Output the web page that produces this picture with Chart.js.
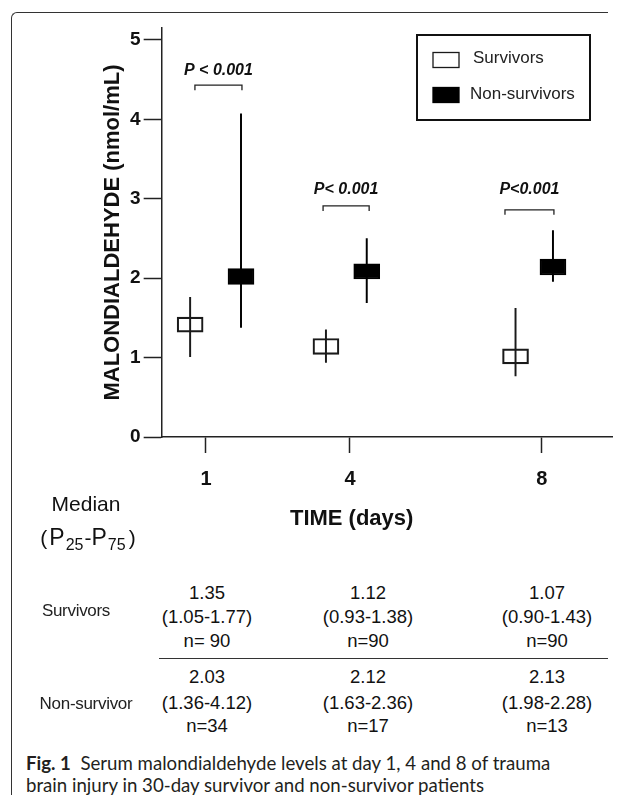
<!DOCTYPE html>
<html>
<head>
<meta charset="utf-8">
<script src="https://cdn.jsdelivr.net/npm/chart.js@4.4.0/dist/chart.umd.min.js"></script>
<style>
  body { margin: 0; background: #fff; }
  #figure { position: relative; width: 622px; height: 795px; overflow: hidden; font-family: "Liberation Sans", Arial, sans-serif; color: #111; }
  #frame { position: absolute; left: 11px; top: 12px; width: 596px; height: 800px; border-left: 1.5px solid #333; border-top: 1.5px solid #333; border-top-left-radius: 6px; }
  #chart { position: absolute; left: 0; top: 0; }
  .txt { position: absolute; transform: translate(-50%, -50%); white-space: nowrap; line-height: 1; }
  .head { font-size: 21px; }
  .head .p { font-size: 23px; }
  .head sub { font-size: 16px; vertical-align: -5px; margin: 0 1px 0 1px; }
  .head .gap { margin: 0 1px; }
  .rowname { font-size: 17px; color: #222; letter-spacing: -0.3px; }
  .val { font-size: 18.5px; }
  #rule { position: absolute; left: 159px; top: 658px; width: 449px; border-top: 1.5px solid #333; }
  #caption { position: absolute; left: 26px; top: 752px; font-family: Lato, "Open Sans", sans-serif; font-size: 18.65px; line-height: 22px; color: #231f20; white-space: nowrap; }
</style>
</head>
<body>
<div id="figure">
  <div id="frame"></div>
  <canvas id="chart" width="622" height="560"></canvas>
  <div id="table"></div>
  <div id="rule"></div>
  <div id="caption"><b>Fig. 1</b>&nbsp; Serum malondialdehyde levels at day 1, 4 and 8 of trauma<br>brain injury in 30-day survivor and non-survivor patients</div>
</div>
<script>
// time points (days) and where each group is drawn on the day axis
const days = [1, 4, 8];
const survivorX = [0.67, 3.5, 7.45];
const nonSurvivorX = [1.73, 4.35, 8.23];

// boxes and whiskers as drawn in the figure (nmol/mL)
const survivorBox = [[1.32, 1.51], [1.04, 1.24], [0.92, 1.11]];
const survivorWhisker = [[1.01, 1.76], [0.94, 1.35], [0.77, 1.62]];
const nonSurvivorBox = [[1.92, 2.12], [1.99, 2.18], [2.04, 2.24]];
const nonSurvivorWhisker = [[1.38, 4.07], [1.69, 2.50], [1.96, 2.60]];

const yTicks = [0, 1, 2, 3, 4, 5];

// significance brackets
const pLabels = ['P < 0.001', 'P< 0.001', 'P<0.001'];
const bracketFrom = [0.77, 3.44, 7.23];
const bracketTo = [1.75, 4.40, 8.25];
const bracketY = [4.43, 2.91, 2.86];
const pTextY = [4.61, 3.11, 3.11];

// table under the chart
const survMedian = ['1.35', '1.12', '1.07'];
const survRange = ['(1.05-1.77)', '(0.93-1.38)', '(0.90-1.43)'];
const survN = ['n= 90', 'n=90', 'n=90'];
const nonMedian = ['2.03', '2.12', '2.13'];
const nonRange = ['(1.36-4.12)', '(1.63-2.36)', '(1.98-2.28)'];
const nonN = ['n=34', 'n=17', 'n=13'];

const FONT = '"Liberation Sans", Arial, sans-serif';
const INK = '#111';

const toPoints = (xs, ranges) => xs.map((v, i) => ({ x: v, y: ranges[i] }));

const sigPlugin = {
  id: 'sig',
  afterDatasetsDraw(chart) {
    const { ctx, scales: { x, y } } = chart;
    ctx.save();
    ctx.strokeStyle = '#222';
    ctx.lineWidth = 1.3;
    ctx.fillStyle = INK;
    ctx.font = 'italic bold 16px ' + FONT;
    ctx.textAlign = 'center';
    ctx.textBaseline = 'middle';
    days.forEach((d, i) => {
      const x0 = x.getPixelForValue(bracketFrom[i]);
      const x1 = x.getPixelForValue(bracketTo[i]);
      const yb = y.getPixelForValue(bracketY[i]);
      ctx.beginPath();
      ctx.moveTo(x0, yb + 5);
      ctx.lineTo(x0, yb);
      ctx.lineTo(x1, yb);
      ctx.lineTo(x1, yb + 5);
      ctx.stroke();
      ctx.fillText(pLabels[i], (x0 + x1) / 2, y.getPixelForValue(pTextY[i]));
    });
    ctx.restore();
  }
};

const legendPlugin = {
  id: 'boxLegend',
  afterDraw(chart) {
    const { ctx, chartArea } = chart;
    const left = chartArea.right - 195, top = chartArea.top + 7;
    ctx.save();
    ctx.lineWidth = 2;
    ctx.strokeStyle = INK;
    ctx.strokeRect(left, top, 173, 85);
    ctx.font = '17px ' + FONT;
    ctx.textBaseline = 'middle';
    [0, 1].forEach(i => {
      const ds = chart.data.datasets[i];
      const cy = top + 25 + i * 35;
      ctx.lineWidth = 1.3;
      ctx.fillStyle = ds.backgroundColor;
      ctx.fillRect(left + 16, cy - 7.5, 26, 15);
      ctx.strokeStyle = ds.borderColor;
      ctx.strokeRect(left + 16, cy - 7.5, 26, 15);
      ctx.fillStyle = '#222';
      ctx.fillText(ds.label, left + 56 - i * 3, cy - 2 + i);
    });
    ctx.restore();
  }
};

const xTitlePlugin = {
  id: 'xTitle',
  afterDraw(chart) {
    const { ctx, chartArea } = chart;
    ctx.save();
    ctx.font = 'bold 22px ' + FONT;
    ctx.fillStyle = INK;
    ctx.textAlign = 'center';
    ctx.textBaseline = 'middle';
    ctx.fillText('TIME (days)', chartArea.left + 190, chartArea.bottom + 82);
    ctx.restore();
  }
};

const barBase = { grouped: false, barPercentage: 1, categoryPercentage: 1, borderSkipped: false };

new Chart(document.getElementById('chart'), {
  type: 'bar',
  data: {
    datasets: [
      Object.assign({ label: 'Survivors', data: toPoints(survivorX, survivorBox),
        backgroundColor: 'rgba(255,255,255,0)', borderColor: '#1a1a1a', borderWidth: 1.5, maxBarThickness: 26 }, barBase),
      Object.assign({ label: 'Non-survivors', data: toPoints(nonSurvivorX, nonSurvivorBox),
        backgroundColor: '#000', borderColor: '#000', borderWidth: 1.5, maxBarThickness: 26 }, barBase),
      Object.assign({ label: 'Survivors range', data: toPoints(survivorX, survivorWhisker),
        backgroundColor: '#1a1a1a', borderWidth: 0, maxBarThickness: 1.3 }, barBase),
      Object.assign({ label: 'Non-survivors range', data: toPoints(nonSurvivorX, nonSurvivorWhisker),
        backgroundColor: '#000', borderWidth: 0, maxBarThickness: 1.3 }, barBase)
    ]
  },
  options: {
    responsive: false,
    animation: false,
    layout: { padding: { left: 96.7, right: 10, top: 28, bottom: 55 } },
    plugins: { legend: { display: false }, tooltip: { enabled: false } },
    scales: {
      x: {
        type: 'linear',
        min: 0.077,
        max: 9.46,
        offset: false,
        afterBuildTicks: s => { s.ticks = days.map(v => ({ value: v })); },
        ticks: { color: INK, font: { family: FONT, size: 20, weight: 'bold' }, padding: 14, maxRotation: 0 },
        grid: { offset: false, drawOnChartArea: false, drawTicks: true, tickLength: 16, tickWidth: 1.5, tickColor: '#222' },
        border: { display: true, color: '#222', width: 1.5 }
      },
      y: {
        min: 0,
        max: 5.15,
        afterBuildTicks: s => { s.ticks = yTicks.map(v => ({ value: v })); },
        ticks: { color: INK, font: { family: FONT, size: 19, weight: 'bold' }, padding: 3 },
        grid: { drawOnChartArea: false, drawTicks: true, tickLength: 18, tickWidth: 1.5, tickColor: '#222' },
        border: { display: true, color: '#222', width: 1.5 },
        title: { display: true, text: 'MALONDIALDEHYDE (nmol/mL)', color: INK,
          font: { family: FONT, size: 22, weight: 'bold' }, padding: { top: 3, bottom: 1 } }
      }
    }
  },
  plugins: [sigPlugin, legendPlugin, xTitlePlugin]
});

// table: header, row names and the three columns of values
const table = document.getElementById('table');
const colX = [207, 368, 547];
function put(text, x, y, cls, html) {
  const el = document.createElement('div');
  el.className = 'txt ' + cls;
  el.style.left = x + 'px';
  el.style.top = y + 'px';
  if (html) el.innerHTML = text; else el.textContent = text;
  table.appendChild(el);
}
put('Median', 86, 503, 'head');
put('(<span class="gap"></span><span class="p">P</span><sub>25</sub>-<span class="p">P</span><sub>75</sub><span class="gap"></span>)', 88, 539, 'head', true);
put('Survivors', 76, 610, 'rowname');
put('Non-survivor', 86, 703, 'rowname');
colX.forEach((cx, i) => {
  put(survMedian[i], cx, 593, 'val');
  put(survRange[i], cx, 617, 'val');
  put(survN[i], cx, 641, 'val');
  put(nonMedian[i], cx, 677, 'val');
  put(nonRange[i], cx, 703, 'val');
  put(nonN[i], cx, 726, 'val');
});
</script>
</body>
</html>
